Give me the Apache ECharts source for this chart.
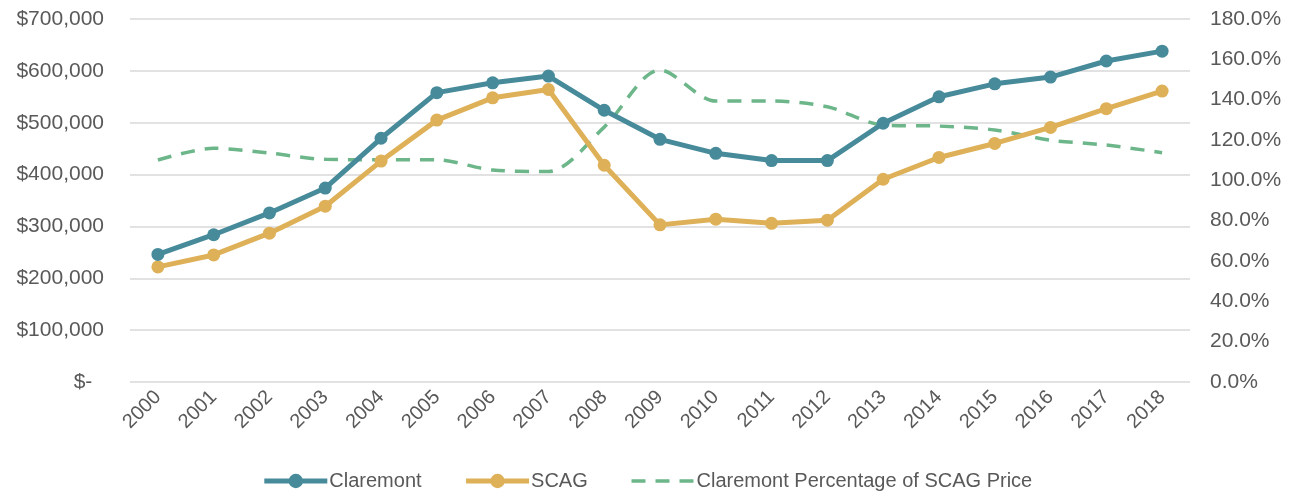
<!DOCTYPE html>
<html>
<head>
<meta charset="utf-8">
<script src="https://cdn.jsdelivr.net/npm/echarts@6/dist/echarts.min.js"></script>
<style>
html, body { margin: 0; padding: 0; background: #fff; }
#chart { width: 1294px; height: 497px; }
</style>
</head>
<body>
<div id="chart"></div>
<script>
//数据
var years = ['2000','2001','2002','2003','2004','2005','2006','2007','2008','2009','2010','2011','2012','2013','2014','2015','2016','2017','2018'];
var claremont = [246000, 284000, 326000, 374000, 470000, 558000, 577000, 590000, 524000, 468000, 441000, 427000, 427000, 499000, 550000, 575000, 588000, 619000, 638000];
var scag = [222000, 245000, 287000, 339000, 426000, 505000, 548000, 564000, 418000, 303000, 314000, 306000, 312000, 391000, 433000, 460000, 491000, 527000, 561000];
var pctOfScag = [110.1, 115.9, 113.5, 110.4, 110.2, 110.2, 105.1, 104.4, 126.4, 154.7, 139.3, 139.3, 136.5, 127.4, 126.9, 125.0, 119.9, 117.5, 113.7];
var leftTicks = [0, 700000, 100000];
var rightTicks = [0, 180, 20];

var fontFamily = '"Liberation Sans", Arial, sans-serif';
var labelColor = '#595959';
var tealColor = '#478b9b';
var goldColor = '#deb058';
var greenColor = '#6cb68a';

var chart = echarts.init(document.getElementById('chart'));

//货币格式
function money(v) {
	if (v === 0) return '$-  ';
	return '$' + v.toString().replace(/\B(?=(\d{3})+(?!\d))/g, ',');
}

var option = {
	animation: false,
	backgroundColor: '#ffffff',
	textStyle: { fontFamily: fontFamily },
	grid: { left: 130, right: 104, top: 19, bottom: 115, containLabel: false },
	legend: {
		bottom: 1,
		left: 'center',
		itemWidth: 63,
		itemHeight: 18,
		itemGap: 42,
		textStyle: { fontSize: 20, color: labelColor, fontFamily: fontFamily, padding: [0, 0, 0, -3] },
		data: [
			{ name: 'Claremont', lineStyle: { width: 5 } },
			{ name: 'SCAG', lineStyle: { width: 5 } },
			{ name: 'Claremont Percentage of SCAG Price', itemStyle: { opacity: 0 }, lineStyle: { width: 3.5 } }
		]
	},
	xAxis: {
		type: 'category',
		data: years,
		boundaryGap: true,
		axisLine: { show: false },
		axisTick: { show: false },
		axisLabel: { rotate: 45, fontSize: 20, color: labelColor, margin: 12, interval: 0 }
	},
	yAxis: [
		{
			type: 'value',
			min: leftTicks[0],
			max: leftTicks[1],
			interval: leftTicks[2],
			axisLine: { show: false },
			axisTick: { show: false },
			splitLine: { lineStyle: { color: '#d9d9d9', width: 1.5 } },
			axisLabel: { fontSize: 21, color: labelColor, margin: 26, formatter: money }
		},
		{
			type: 'value',
			min: rightTicks[0],
			max: rightTicks[1],
			interval: rightTicks[2],
			axisLine: { show: false },
			axisTick: { show: false },
			splitLine: { show: false },
			axisLabel: { fontSize: 21, color: labelColor, margin: 20, formatter: function (v) { return v.toFixed(1) + '%'; } }
		}
	],
	series: [
		{
			name: 'Claremont',
			type: 'line',
			data: claremont,
			yAxisIndex: 0,
			symbol: 'circle',
			symbolSize: 13,
			lineStyle: { color: tealColor, width: 5 },
			itemStyle: { color: tealColor },
			z: 3
		},
		{
			name: 'SCAG',
			type: 'line',
			data: scag,
			yAxisIndex: 0,
			symbol: 'circle',
			symbolSize: 13,
			lineStyle: { color: goldColor, width: 5 },
			itemStyle: { color: goldColor },
			z: 2
		},
		{
			name: 'Claremont Percentage of SCAG Price',
			type: 'line',
			data: pctOfScag,
			yAxisIndex: 1,
			smooth: 0.3,
			symbol: 'none',
			lineStyle: { color: greenColor, width: 3.5, type: [14, 10] },
			itemStyle: { color: greenColor },
			z: 1
		}
	]
};

chart.setOption(option);
</script>
</body>
</html>
